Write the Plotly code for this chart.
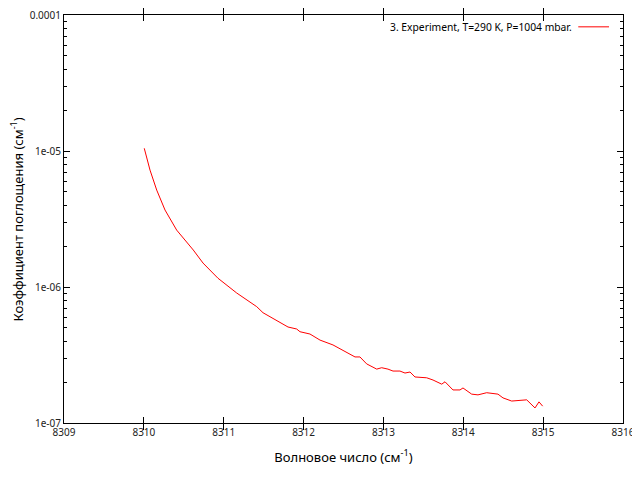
import plotly.graph_objects as go

wavenumber = [8310.005, 8310.077, 8310.161, 8310.265, 8310.411, 8310.619, 8310.741, 8310.928,
              8311.163, 8311.413, 8311.492, 8311.726, 8311.805, 8311.914, 8311.955, 8312.080,
              8312.206, 8312.368, 8312.540, 8312.644, 8312.706, 8312.790, 8312.916, 8312.978,
              8313.057, 8313.120, 8313.207, 8313.270, 8313.333, 8313.395, 8313.542, 8313.621,
              8313.730, 8313.771, 8313.871, 8313.959, 8313.996, 8314.105, 8314.184, 8314.293,
              8314.434, 8314.497, 8314.606, 8314.794, 8314.898, 8314.948, 8314.994]
absorption = [1.047e-5, 7.24e-6, 5.16e-6, 3.68e-6, 2.62e-6, 1.87e-6, 1.50e-6, 1.16e-6,
              9.03e-7, 7.17e-7, 6.47e-7, 5.43e-7, 5.08e-7, 4.91e-7, 4.69e-7, 4.51e-7,
              4.07e-7, 3.75e-7, 3.33e-7, 3.06e-7, 3.06e-7, 2.72e-7, 2.49e-7, 2.55e-7,
              2.49e-7, 2.41e-7, 2.41e-7, 2.33e-7, 2.37e-7, 2.18e-7, 2.15e-7, 2.07e-7,
              1.93e-7, 2.01e-7, 1.75e-7, 1.75e-7, 1.81e-7, 1.63e-7, 1.61e-7, 1.67e-7,
              1.63e-7, 1.53e-7, 1.45e-7, 1.48e-7, 1.29e-7, 1.43e-7, 1.33e-7]

x_ticks = [8309, 8310, 8311, 8312, 8313, 8314, 8315, 8316]
y_ticks = [1e-7, 1e-6, 1e-5, 1e-4]
y_tick_labels = ["1e-07", "1e-06", "1e-05", "0.0001"]
y_minor_ticks = [m * 10.0 ** e for e in (-7, -6, -5) for m in range(2, 10)]
series_name = "3. Experiment, T=290 K, P=1004 mbar."
x_title = "Волновое число (см<sup>-1</sup>)"
y_title = "Коэффициент поглощения (см<sup>-1</sup>)"

FONT = "Noto Sans"

fig = go.Figure()
fig.add_trace(go.Scatter(x=wavenumber, y=absorption, mode="lines",
                         line=dict(color="#ff0000", width=1), name=series_name,
                         showlegend=False))
# helper trace to carry the minor-tick axis
fig.add_trace(go.Scatter(x=[wavenumber[0]], y=[absorption[0]], yaxis="y2", mode="lines",
                         line=dict(width=0), showlegend=False, hoverinfo="skip"))

axis_common = dict(showline=True, linecolor="black", linewidth=1, mirror="allticks",
                   ticks="inside", ticklen=6, tickcolor="black", showgrid=False,
                   zeroline=False, automargin=False, ticklabeloverflow="allow",
                   tickfont=dict(family=FONT, size=10, color="#222"))

fig.update_layout(
    xaxis=dict(range=[8309, 8316], tickvals=x_ticks, ticktext=[str(v) for v in x_ticks],
               title=dict(text=x_title,
                          font=dict(family=FONT, size=13, color="black"), standoff=14),
               **axis_common),
    yaxis=dict(type="log", range=[-7, -4], tickvals=y_ticks, ticktext=y_tick_labels,
               **axis_common),
    yaxis2=dict(type="log", range=[-7, -4], overlaying="y", side="left",
                tickvals=y_minor_ticks, showticklabels=False, ticks="inside", ticklen=3,
                tickcolor="black", mirror="allticks", showline=False, showgrid=False,
                zeroline=False, automargin=False),
)

# y-axis title as a rotated annotation so it sits at the reference's position
fig.add_annotation(xref="paper", yref="paper", x=-0.085, y=0.5, xanchor="center", yanchor="middle",
                   text=y_title, textangle=-90, showarrow=False,
                   font=dict(family=FONT, size=13, color="black"))

fig.add_annotation(xref="paper", yref="paper", x=0.913, y=0.971, xanchor="right", yanchor="middle",
                   text=series_name, showarrow=False,
                   font=dict(family=FONT, size=10.3, color="black"))
fig.add_shape(type="line", xref="paper", yref="paper", x0=0.92, x1=0.975, y0=0.971, y1=0.971,
              line=dict(color="#ff0000", width=1))

# page body has an 8px offset; margins compensate so the plot area lands at 64..623 x 15..423
fig.update_layout(width=640, height=480, margin=dict(l=56, r=25, t=7, b=65),
                  plot_bgcolor="white", paper_bgcolor="white",
                  font=dict(family=FONT))

fig.write_html("out.html")
